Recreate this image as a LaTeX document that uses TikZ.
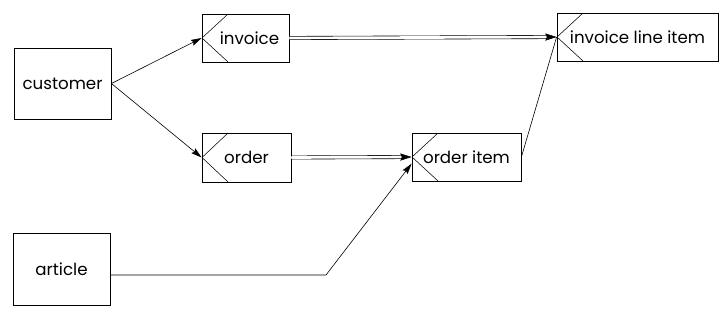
\documentclass[tikz,border=0pt]{standalone}
\usepackage{fontspec}
\setmainfont{Poppins}
\usetikzlibrary{arrows.meta}
\tikzset{
  box/.style={draw, line width=0.6pt, font=\fontsize{12.5}{14}\selectfont, inner sep=2pt},
  entity/.style={box, path picture={
    \draw[line width=0.4pt] (path picture bounding box.west) -- ([xshift=19.5pt]path picture bounding box.north west)
      (path picture bounding box.west) -- ([xshift=19.5pt]path picture bounding box.south west);}},
  arr/.style={line width=0.45pt, -{Stealth[length=8pt,width=4.6pt,inset=1.2pt]}},
  dbl/.style={line width=0.45pt, double, double distance=2pt, shorten >=5pt},
  dbltip/.style={draw=white, line width=0.4pt, -{Stealth[length=8.5pt,width=5.4pt,inset=1.2pt,color=black]}}
}
\begin{document}
\begin{tikzpicture}[x=0.75pt,y=-0.75pt]
\useasboundingbox (0,0) rectangle (727,320);
\node[box,minimum width=97*0.75pt,minimum height=71*0.75pt] (customer) at (62.5,83.5) {customer};
\node[box,minimum width=97*0.75pt,minimum height=72*0.75pt] (article) at (61.5,269) {article};
\node[entity,minimum width=87*0.75pt,minimum height=48*0.75pt] (invoice) at (245.5,38) {\hspace*{6pt}invoice};
\node[entity,minimum width=89*0.75pt,minimum height=49*0.75pt] (order) at (246.5,157.5) {order};
\node[entity,minimum width=109*0.75pt,minimum height=48*0.75pt] (oitem) at (466.5,157) {order item};
\node[entity,minimum width=161*0.75pt,minimum height=48*0.75pt] (iitem) at (637.5,37) {invoice line item};
\coordinate (bend) at (326,275);
% connectors
\draw[arr] (customer.east) -- (invoice.west);
\draw[arr] (customer.east) -- (order.west);
\draw[dbl] (invoice.east) -- (iitem.west);
\draw[dbltip] (invoice.east) -- (iitem.west);
\draw[dbl] (order.east) -- (oitem.west);
\draw[dbltip] (order.east) -- (oitem.west);
\draw[arr] ([yshift=-4.5pt]article.east) -- (bend) -- ([yshift=-5pt]oitem.west);
\draw[line width=0.45pt] (oitem.east) -- (iitem.west);
\end{tikzpicture}
\end{document}
